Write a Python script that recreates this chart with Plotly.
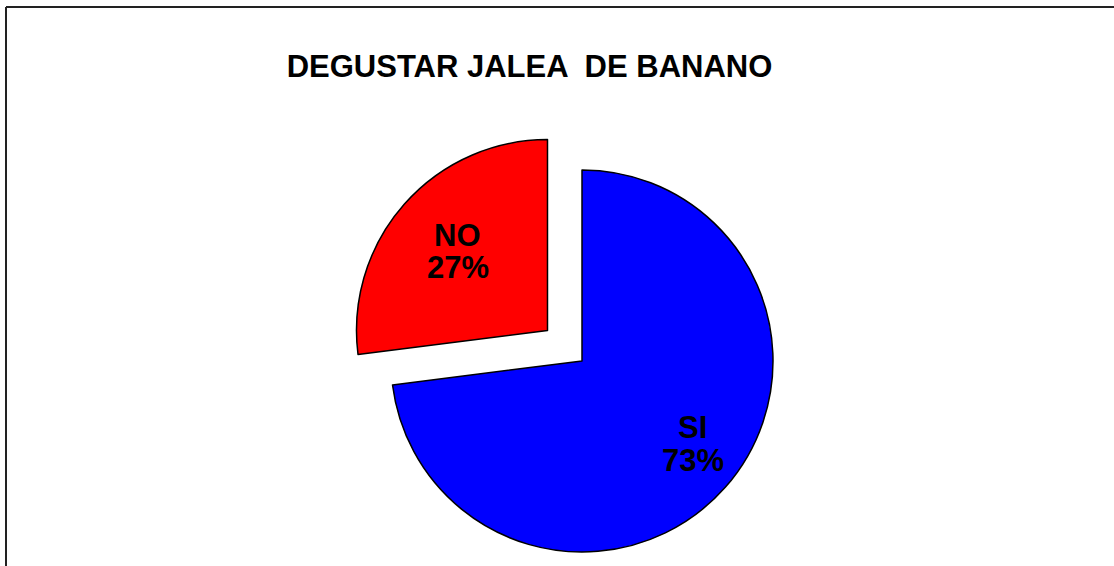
import math
import plotly.graph_objects as go

# ---- data ----
labels = ["SI", "NO"]
values = [73, 27]
colors = ["#0000FF", "#FF0000"]
pulled = ["NO"]
title_text = "DEGUSTAR JALEA  DE BANANO"

# ---- layout / style constants ----
W, H = 1114, 566
R = 191                 # pie radius (px)
CX, CY = 582, 361       # pie centre (px from top-left)
PULL_PX = 46            # explode distance (px)
FONT = "Arial, Liberation Sans, sans-serif"
LABEL_SIZE = 31
LINE_GAP = 32.5
LABEL_POS = {"SI": (0.724, -4.5), "NO": (0.626, 0.0)}  # (radius fraction, angle tweak)

total = sum(values)
fig = go.Figure()
annotations = []
start = 0.0
for i, (lab, v, c) in enumerate(zip(labels, values, colors)):
    frac = v / total
    mid = (start + frac / 2) * 360.0
    pull = PULL_PX if lab in pulled else 0
    cx = CX + pull * math.sin(math.radians(mid))
    cy = CY - pull * math.cos(math.radians(mid))
    slice_colors = ["rgba(0,0,0,0)"] * len(values)
    slice_colors[i] = c
    widths = [0] * len(values)
    widths[i] = 1.5
    fig.add_trace(go.Pie(
        values=values, labels=labels, sort=False, direction="clockwise", rotation=0,
        marker=dict(colors=slice_colors, line=dict(color="black", width=widths)),
        textinfo="none", hoverinfo="skip", showlegend=False,
        domain=dict(x=[(cx - R) / W, (cx + R) / W], y=[(H - cy - R) / H, (H - cy + R) / H]),
    ))
    rf, dang = LABEL_POS[lab]
    ang = math.radians(mid + dang)
    lx = cx + rf * R * math.sin(ang)
    ly = cy - rf * R * math.cos(ang)
    pct = f"{round(100 * v / total)}%"
    for txt, dy in ((lab, -LINE_GAP / 2), (pct, LINE_GAP / 2)):
        annotations.append(dict(
            text=txt, x=lx / W, y=1 - (ly + dy) / H, xref="paper", yref="paper",
            xanchor="center", yanchor="middle", showarrow=False,
            font=dict(family=FONT, size=LABEL_SIZE, color="black", weight="bold"),
        ))
    start += frac

shapes = [
    dict(type="line", xref="paper", yref="paper", x0=6 / W, x1=1.0, y0=1 - 7 / H, y1=1 - 7 / H,
         line=dict(color="#222222", width=2)),
    dict(type="line", xref="paper", yref="paper", x0=6 / W, x1=6 / W, y0=0, y1=1 - 7 / H,
         line=dict(color="#222222", width=2)),
]

fig.update_layout(
    width=W, height=H,
    margin=dict(l=0, r=0, t=0, b=0),
    paper_bgcolor="white", plot_bgcolor="white",
    title=dict(text=title_text, x=529.5 / W, xanchor="center", y=1 - 65.9 / H, yanchor="middle",
               font=dict(family=FONT, size=31, color="black", weight="bold")),
    annotations=annotations,
    shapes=shapes,
)

fig.write_html("out.html")
